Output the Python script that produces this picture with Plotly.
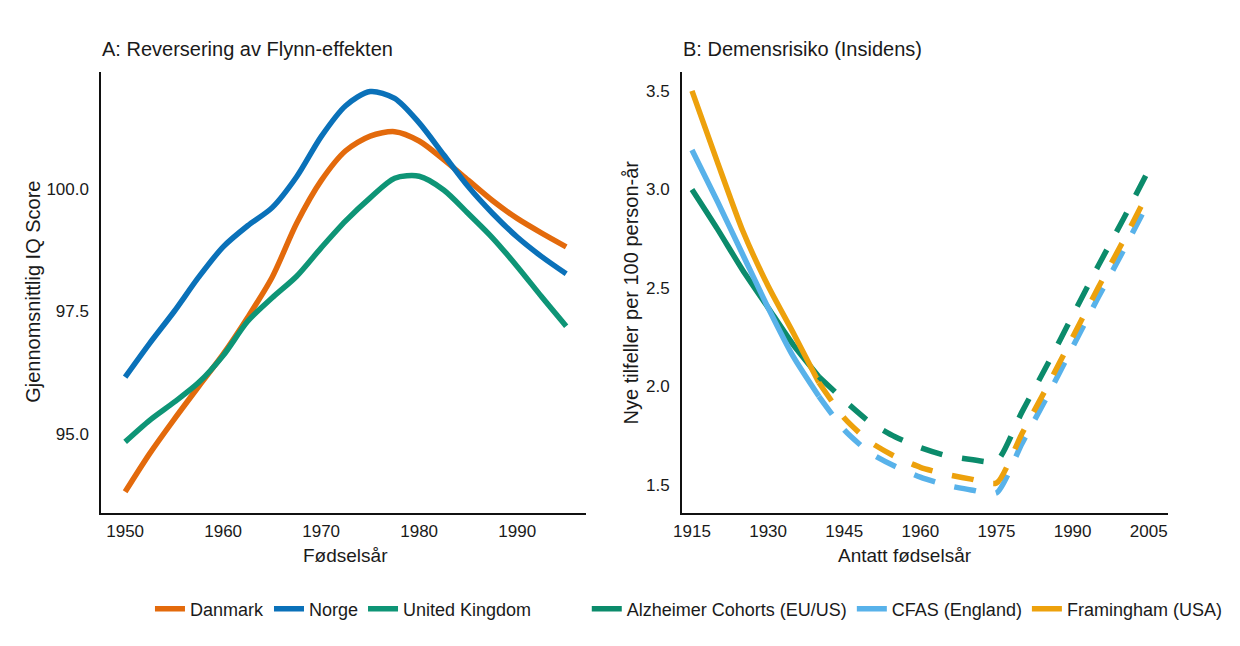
import plotly.graph_objects as go

# ---------------- Panel A data ----------------
years_a = [1950, 1952.5, 1955, 1957.5, 1960, 1962.5, 1965, 1967.5, 1970, 1972.5,
           1975, 1977.5, 1980, 1982.5, 1985, 1987.5, 1990, 1992.5, 1995]
danmark = [93.82, 94.60, 95.30, 95.97, 96.63, 97.38, 98.20, 99.30, 100.17, 100.78,
           101.08, 101.17, 100.98, 100.60, 100.18, 99.76, 99.40, 99.10, 98.82]
norge = [96.16, 96.85, 97.50, 98.20, 98.82, 99.25, 99.62, 100.25, 101.07, 101.70,
         101.99, 101.85, 101.35, 100.70, 100.05, 99.50, 99.02, 98.62, 98.27]
uk = [94.84, 95.28, 95.65, 96.05, 96.60, 97.30, 97.78, 98.22, 98.80, 99.35,
      99.82, 100.22, 100.26, 99.98, 99.50, 99.00, 98.42, 97.80, 97.20]

# ---------------- Panel B data ----------------
years_b = [1915, 1920, 1925, 1930, 1935, 1940, 1945, 1950, 1955, 1960,
           1965, 1970, 1975, 1980, 1985, 1990, 1995, 2000, 2005]
alzheimer = [3.00, 2.80, 2.59, 2.40, 2.21, 2.05, 1.93, 1.82, 1.745, 1.69,
             1.65, 1.63, 1.62, 1.87, 2.11, 2.36, 2.61, 2.85, 3.10]
cfas = [3.20, 2.94, 2.67, 2.40, 2.15, 1.95, 1.78, 1.665, 1.595, 1.54,
        1.50, 1.475, 1.46, 1.71, 1.95, 2.20, 2.45, 2.69, 2.94]
framingham = [3.50, 3.14, 2.79, 2.51, 2.27, 2.02, 1.84, 1.72, 1.645, 1.59,
              1.555, 1.53, 1.51, 1.76, 2.00, 2.25, 2.50, 2.74, 2.99]
observed_until = 1940  # solid up to here, projected (dashed) afterwards

ticks_a_x = [1950, 1960, 1970, 1980, 1990]
ticks_a_y = [95.0, 97.5, 100.0]
ticks_b_x = [1915, 1930, 1945, 1960, 1975, 1990, 2005]
ticks_b_y = [1.5, 2.0, 2.5, 3.0, 3.5]

FONT = "Liberation Sans, Arial, Helvetica, sans-serif"
TXT = "#1a1a1a"
W, H = 1240, 646
LW = 5.5

fig = go.Figure()

series_a = [("Danmark", danmark, "#E36A0C"),
            ("Norge", norge, "#0A71B9"),
            ("United Kingdom", uk, "#0E9576")]
for name, vals, col in series_a:
    fig.add_trace(go.Scatter(x=years_a, y=vals, name=name, mode="lines",
                             line=dict(color=col, width=LW, shape="spline", smoothing=0.8),
                             xaxis="x", yaxis="y", legend="legend"))

series_b = [("Alzheimer Cohorts (EU/US)", alzheimer, "#0B8B6B"),
            ("CFAS (England)", cfas, "#58B2EA"),
            ("Framingham (USA)", framingham, "#EDA10C")]
k = years_b.index(observed_until)
for name, vals, col in series_b:
    fig.add_trace(go.Scatter(x=years_b[:k + 1], y=vals[:k + 1], name=name, mode="lines",
                             line=dict(color=col, width=LW, shape="spline", smoothing=0.6),
                             xaxis="x2", yaxis="y2", legend="legend2"))
for name, vals, col in series_b:
    fig.add_trace(go.Scatter(x=years_b[k:], y=vals[k:], name=name, mode="lines",
                             showlegend=False,
                             line=dict(color=col, width=LW, dash="22px,20px",
                                       shape="spline", smoothing=0.6),
                             xaxis="x2", yaxis="y2"))

def px_x(p):
    return p / W

def px_y(p):
    return (H - p) / H

ydom = [px_y(513), px_y(72)]
axis_common = dict(showgrid=False, zeroline=False, showline=True, linecolor="#111",
                   linewidth=2, ticks="", tickfont=dict(family=FONT, size=17, color=TXT))
xstyle = dict(axis_common, ticklabelstandoff=2)
ystyle = dict(axis_common, ticklabelstandoff=7)

fig.update_layout(
    width=W, height=H,
    margin=dict(l=0, r=0, t=0, b=0),
    paper_bgcolor="white", plot_bgcolor="white",
    font=dict(family=FONT, color=TXT),
    xaxis=dict(domain=[px_x(93), px_x(581)], range=[1947.57, 1997.0],
               tickvals=ticks_a_x, anchor="y", **xstyle),
    yaxis=dict(domain=ydom, range=[93.388, 102.388], tickvals=ticks_a_y,
               tickformat=".1f", anchor="x", **ystyle),
    xaxis2=dict(domain=[px_x(678), px_x(1167)], range=[1913.05, 2008.7],
                tickvals=ticks_b_x, anchor="y2", **xstyle),
    yaxis2=dict(domain=ydom, range=[1.358, 3.596], tickvals=ticks_b_y,
                tickformat=".1f", anchor="x2", **ystyle),
    legend=dict(orientation="h", x=px_x(142), y=px_y(609), xanchor="left", yanchor="middle",
                font=dict(family=FONT, size=18, color=TXT), bgcolor="rgba(0,0,0,0)"),
    legend2=dict(orientation="h", x=px_x(582), y=px_y(609), xanchor="left", yanchor="middle",
                 font=dict(family=FONT, size=18, color=TXT), bgcolor="rgba(0,0,0,0)"),
    showlegend=True,
)

annots = [
    dict(text="A: Reversering av Flynn-effekten", x=px_x(92), y=px_y(49),
         xanchor="left", yanchor="middle", font=dict(size=20)),
    dict(text="B: Demensrisiko (Insidens)", x=px_x(677), y=px_y(49),
         xanchor="left", yanchor="middle", font=dict(size=20)),
    dict(text="Fødselsår", x=px_x(339), y=px_y(555),
         xanchor="center", yanchor="middle", font=dict(size=19)),
    dict(text="Antatt fødselsår", x=px_x(903), y=px_y(555),
         xanchor="center", yanchor="middle", font=dict(size=19)),
    dict(text="Gjennomsnittlig IQ Score", x=px_x(24), y=px_y(292), textangle=-90,
         xanchor="center", yanchor="middle", font=dict(size=20)),
    dict(text="Nye tilfeller per 100 person-år", x=px_x(627), y=px_y(292), textangle=-90,
         xanchor="center", yanchor="middle", font=dict(size=20)),
]
for a in annots:
    a.update(xref="paper", yref="paper", showarrow=False)
    a["font"].update(family=FONT, color=TXT)
fig.update_layout(annotations=annots)

fig.write_html("out.html")
